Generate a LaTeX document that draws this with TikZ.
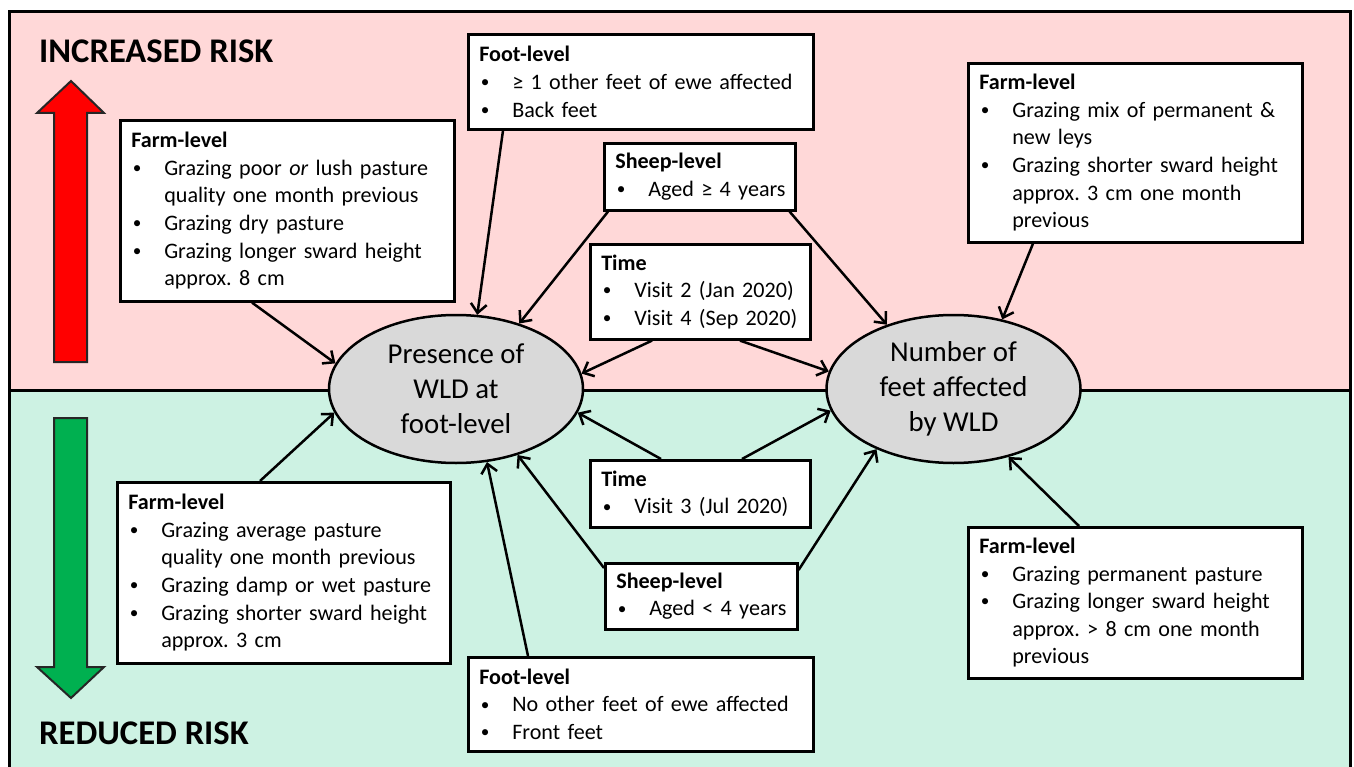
\documentclass[tikz,border=0pt]{standalone}
\usepackage{fontspec}
\usepackage{graphicx}
\setmainfont{Carlito}
\frenchspacing
\usetikzlibrary{arrows.meta,shapes.geometric}
\definecolor{pinkbg}{RGB}{255,216,216}
\definecolor{greenbg}{RGB}{205,242,227}
\definecolor{ellfill}{RGB}{217,217,217}
\definecolor{upred}{RGB}{255,0,0}
\definecolor{downgreen}{RGB}{0,176,80}
\newcommand{\mybullet}{\raisebox{1.8pt}{\scalebox{0.78}{\textbullet}}}
\newcommand{\hdl}[1]{\noindent\mbox{\textbf{#1}}}
\newcommand{\bl}[1]{\par\noindent\makebox[33pt][l]{\hspace{1.5pt}\mybullet}\mbox{#1}}
\newcommand{\cl}[1]{\par\noindent\hspace*{33pt}\mbox{#1}}
\begin{document}
\begin{tikzpicture}[x=1pt,y=-1pt,
  box/.style={draw=black, line width=2.6pt, fill=white, anchor=north west,
    inner xsep=11pt, inner ysep=0pt, align=left,
    font=\fontsize{22.1}{27.6}\selectfont},
  ell/.style={ellipse, draw=black, line width=2.5pt, fill=ellfill,
    minimum width=254pt, minimum height=148pt, inner sep=0pt, align=center,
    font=\fontsize{28.8}{35}\selectfont},
  title/.style={anchor=base west, inner sep=0pt,
    font=\fontsize{34.6}{40}\selectfont\bfseries},
  conn/.style={line width=2.5pt, -{Straight Barb[length=9pt,width=16pt]}},
  bigarrow/.style={line width=2pt, draw=black!85}
]
\useasboundingbox (0,0) rectangle (1354,767);
% background panels
\fill[pinkbg] (9,12) rectangle (1350,390.5);
\fill[greenbg] (9,390.5) rectangle (1350,780);
\draw[line width=3pt] (9,12) rectangle (1350,780);
\draw[line width=3.5pt] (9,390.5) -- (1350,390.5);

% big arrows
\filldraw[bigarrow, fill=upred] (54,362) -- (87,362) -- (87,113) -- (104,113) -- (71,81) -- (37,113) -- (54,113) -- cycle;
\filldraw[bigarrow, fill=downgreen] (54,418) -- (87,418) -- (87,667) -- (104,667) -- (71,698) -- (37,667) -- (54,667) -- cycle;

% titles
\node[title] (inc) at (39,63) {INCREASED RISK};
\node[title] (red) at (39,744) {REDUCED RISK};

% outcome ellipses
\node[ell] (e1) at (456,389) {Presence of\\WLD at\\foot-level};
\node[ell] (e2) at (953.5,389) {Number of\\feet affected\\by WLD};

% boxes
\node[box, minimum width=334pt, minimum height=181pt, text width=312pt] (A) at (119,119)
 {\hdl{Farm-level}\bl{Grazing poor \textit{or} lush pasture}\cl{quality one month previous}\bl{Grazing dry pasture}\bl{Grazing longer sward height}\cl{approx. 8 cm}};
\node[box, minimum width=345pt, minimum height=95pt, text width=323pt] (B) at (467,33)
 {\hdl{Foot-level}\bl{≥ 1 other feet of ewe affected}\bl{Back feet}};
\node[box, minimum width=191pt, minimum height=67pt, text width=169pt] (C) at (603,142)
 {\hdl{Sheep-level}\bl{Aged ≥ 4 years}};
\node[box, minimum width=220pt, minimum height=95pt, text width=198pt] (D) at (589,243)
 {\hdl{Time}\bl{Visit 2 (Jan 2020)}\bl{Visit 4 (Sep 2020)}};
\node[box, minimum width=334pt, minimum height=179pt, text width=312pt] (E) at (967,62)
 {\hdl{Farm-level}\bl{Grazing mix of permanent \&}\cl{new leys}\bl{Grazing shorter sward height}\cl{approx. 3 cm one month}\cl{previous}};
\node[box, minimum width=333pt, minimum height=181pt, text width=311pt] (F) at (116,481)
 {\hdl{Farm-level}\bl{Grazing average pasture}\cl{quality one month previous}\bl{Grazing damp or wet pasture}\bl{Grazing shorter sward height}\cl{approx. 3 cm}};
\node[box, minimum width=220pt, minimum height=67pt, text width=198pt] (G) at (589,459)
 {\hdl{Time}\bl{Visit 3 (Jul 2020)}};
\node[box, minimum width=192pt, minimum height=66pt, text width=170pt] (H) at (604,562)
 {\hdl{Sheep-level}\bl{Aged < 4 years}};
\node[box, minimum width=345pt, minimum height=94pt, text width=323pt] (I) at (467,656)
 {\hdl{Foot-level}\bl{No other feet of ewe affected}\bl{Front feet}};
\node[box, minimum width=334pt, minimum height=151pt, text width=312pt] (J) at (967,526)
 {\hdl{Farm-level}\bl{Grazing permanent pasture}\bl{Grazing longer sward height}\cl{approx. > 8 cm one month}\cl{previous}};

% connectors
\draw[conn] ([xshift=133pt]A.south west) -- (e1.168.1);
\draw[conn] ([xshift=36pt]B.south west) -- (e1.74.8);
\draw[conn] ([xshift=5pt]C.south west) -- (e1.46.3);
\draw[conn] ([xshift=-7pt]C.south east) -- (e2.136.5);
\draw[conn] ([xshift=63pt]D.south west) -- (e1.7.1);
\draw[conn] ([xshift=151pt]D.south west) -- (e2.172.8);
\draw[conn] ([xshift=66pt]E.south west) -- (e2.55.7);
\draw[conn] ([xshift=144pt]F.north west) -- (e1.191.5);
\draw[conn] ([xshift=72pt]G.north west) -- (e1.349.7);
\draw[conn] ([xshift=153pt]G.north west) -- (e2.190.1);
\draw[conn] ([yshift=-6pt]H.north west) -- (e1.313.3);
\draw[conn] ([yshift=-8pt]H.north east) -- (e2.218.3);
\draw[conn] ([xshift=61pt]I.north west) -- (e1.293.3);
\draw[conn] ([xshift=112pt]J.north west) -- (e2.309.2);
\end{tikzpicture}
\end{document}
